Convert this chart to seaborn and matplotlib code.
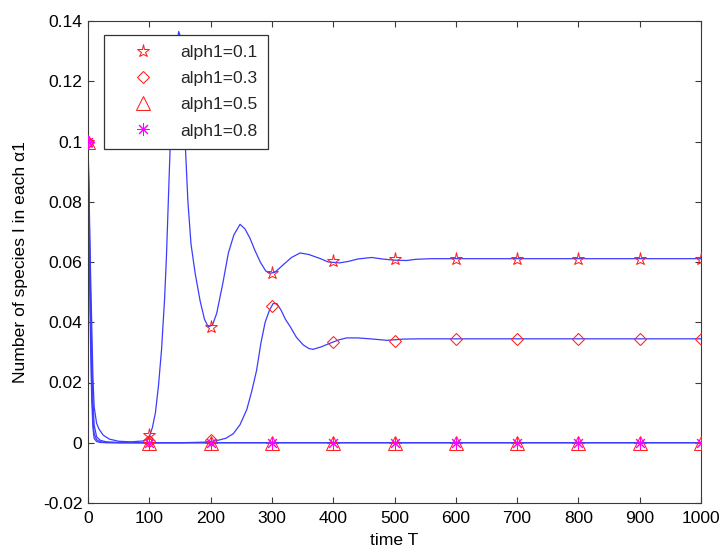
import matplotlib
matplotlib.use("Agg")
import matplotlib.pyplot as plt
import seaborn as sns
import pandas as pd

# ---- data ----
A_t = [0, 2, 4, 6, 8, 10, 14, 18, 25, 35, 50, 70, 90, 100, 105, 110, 115, 120, 125, 128,
       131, 134, 138, 143, 148, 152, 155, 158, 163, 168, 175, 183, 190, 196, 203, 210, 220, 229, 238, 248,
       256, 264, 272, 281, 290, 298, 305, 318, 332, 346, 360, 378, 392, 410, 425, 440, 463, 480, 500, 520,
       535, 560, 1000]
A_v = [0.100, 0.080, 0.058, 0.040, 0.022, 0.012, 0.0065, 0.0045, 0.0025, 0.0012,
       0.0005, 0.0003, 0.0006, 0.002, 0.005, 0.010, 0.019, 0.031, 0.048, 0.062,
       0.080, 0.098, 0.116, 0.130, 0.1365, 0.134, 0.123, 0.102, 0.080, 0.066,
       0.056, 0.047, 0.041, 0.0385, 0.039, 0.043, 0.053, 0.063, 0.069, 0.0725,
       0.071, 0.068, 0.064, 0.060, 0.057, 0.0563, 0.0566, 0.059, 0.0615, 0.063,
       0.0625, 0.0612, 0.0600, 0.0597, 0.0602, 0.061, 0.0615, 0.0610, 0.0606, 0.0605,
       0.0609, 0.0611, 0.0611]

B_t = [0, 2, 4, 6, 8, 10, 14, 20, 30, 50, 100, 150, 190, 210, 225, 237, 248, 259, 267, 275,
       282, 289, 296, 302, 308, 315, 322, 330, 340, 351, 360, 367, 380, 398, 410, 422, 440, 460, 488, 514,
       540, 1000]
B_v = [0.100, 0.075, 0.050, 0.030, 0.014, 0.006, 0.002, 0.0008, 0.0003, 0.0001,
       0.0, 0.0, 0.0002, 0.0007, 0.0015, 0.003, 0.006, 0.011, 0.017, 0.024,
       0.033, 0.040, 0.044, 0.0462, 0.0462, 0.044, 0.041, 0.0385, 0.035, 0.0325,
       0.0313, 0.031, 0.0318, 0.0333, 0.0342, 0.0348, 0.0348, 0.0345, 0.034, 0.0344,
       0.0345, 0.0345]

C_t = [0, 2, 4, 6, 8, 10, 14, 20, 30, 50, 1000]
C_v = [0.1, 0.07, 0.042, 0.02, 0.008, 0.003, 0.001, 0.0003, 0.0001, 0.0, 0.0]

D_t = [0, 2, 4, 6, 8, 10, 14, 20, 30, 1000]
D_v = [0.1, 0.065, 0.035, 0.015, 0.005, 0.0015, 0.0004, 0.0001, 0.0, 0.0]

mk_t = [0, 100, 200, 300, 400, 500, 600, 700, 800, 900, 1000]
star_v = [0.100, 0.0025, 0.0385, 0.0563, 0.0602, 0.0610, 0.0611, 0.0611, 0.0611, 0.0611, 0.0611]
diam_v = [0.100, 0.0005, 0.0008, 0.0455, 0.0333, 0.0338, 0.0345, 0.0345, 0.0345, 0.0345, 0.0345]
tri_v = [0.100, 0.0, 0.0, 0.0, 0.0, 0.0, 0.0, 0.0, 0.0, 0.0, 0.0]
ast_v = [0.100, 0.0, 0.0, 0.0, 0.0, 0.0, 0.0, 0.0, 0.0, 0.0, 0.0]

labels = ["alph1=0.1", "alph1=0.3", "alph1=0.5", "alph1=0.8"]
xticks = [0, 100, 200, 300, 400, 500, 600, 700, 800, 900, 1000]
yticks = [-0.02, 0, 0.02, 0.04, 0.06, 0.08, 0.1, 0.12, 0.14]
ytick_labels = ["-0.02", "0", "0.02", "0.04", "0.06", "0.08", "0.1", "0.12", "0.14"]

# ---- style ----
sns.set_theme(style="white")
plt.rcParams["font.family"] = ["Liberation Sans", "DejaVu Sans"]
FS = 12.6
EDGE = "#3a3a3a"

fig = plt.figure(figsize=(7.21, 5.52), dpi=100)
ax = fig.add_axes([88 / 721, 1 - 503 / 552, (701 - 88) / 721, (503 - 21) / 552])

LINE_C = "#3c3cff"
curves = [(A_t, A_v), (B_t, B_v), (C_t, C_v), (D_t, D_v)]
for i, (tt, vv) in enumerate(curves):
    df = pd.DataFrame({"t": tt, "v": vv})
    sns.lineplot(data=df, x="t", y="v", ax=ax, color=LINE_C, linewidth=0.9,
                 estimator=None, sort=False, legend=False, zorder=2)

marker_specs = [
    (star_v, "*", 9.5, "#ff2020"),
    (diam_v, "D", 6.4, "#ff2020"),
    (tri_v, "^", 10, "#ff2020"),
    (ast_v, (8, 2, 0), 9, "#ff00ff"),
]
for (vals, mk, ms, col), lab in zip(marker_specs, labels):
    df = pd.DataFrame({"t": mk_t, "v": vals})
    sns.lineplot(data=df, x="t", y="v", ax=ax, estimator=None, sort=False,
                 linestyle="", marker=mk, markersize=ms, markerfacecolor="none",
                 markeredgecolor=col, color=col, markeredgewidth=0.75,
                 label=lab, zorder=3)

ax.set_xlim(0, 1000)
ax.set_ylim(-0.02, 0.14)
ax.set_xticks(xticks)
ax.set_xticklabels([str(x) for x in xticks])
ax.set_yticks(yticks)
ax.set_yticklabels(ytick_labels)

for sp in ax.spines.values():
    sp.set_visible(True)
    sp.set_color(EDGE)
    sp.set_linewidth(0.8)

ax.tick_params(axis="both", which="both", direction="in", length=4, width=0.8,
               color=EDGE, labelcolor="black", labelsize=FS,
               top=True, right=True, bottom=True, left=True)
ax.tick_params(axis="x", pad=6)
ax.tick_params(axis="y", pad=4)
ax.grid(False)

ax.set_xlabel("time T", fontsize=FS, color="black")
ax.set_ylabel("Number of species I in each α1", fontsize=FS, color="black")
ax.xaxis.set_label_coords(0.5, -0.062)
ax.yaxis.set_label_coords(-0.098, 0.5)

leg = ax.legend(loc="upper left", bbox_to_anchor=((104 - 88) / 613, 1 - (34.5 - 21) / 482),
                borderaxespad=0, fontsize=FS, frameon=True, fancybox=False,
                framealpha=1, edgecolor="#333333", borderpad=0.6, labelspacing=0.62,
                handlelength=3.3, handletextpad=0.45, numpoints=1)
leg.get_frame().set_linewidth(0.9)
leg.set_zorder(10)

fig.savefig("out.png", dpi=100)
